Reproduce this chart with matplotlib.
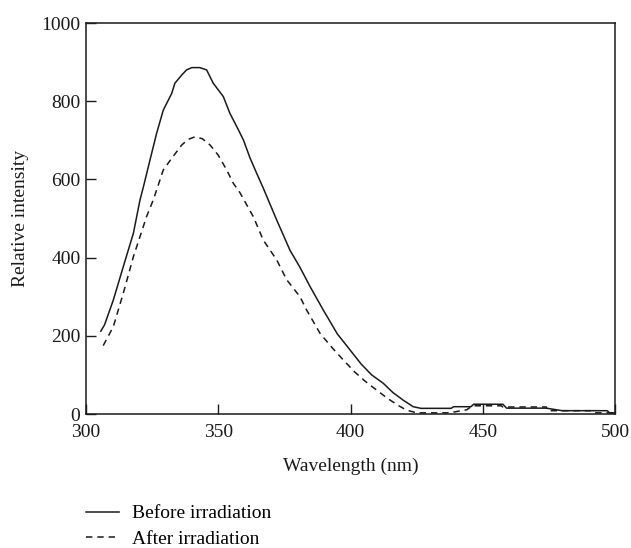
import numpy as np
import matplotlib.pyplot as plt

plt.rcParams['font.family'] = ['Liberation Serif', 'DejaVu Serif']

# before irradiation
wl_before = [305.6, 307, 310.3, 314.1, 317.9, 320.4, 321.7, 324.2, 326.7, 329.2, 332.4,
             333.6, 336.2, 338, 340, 343, 345.6, 348.1, 351.9, 354.4, 357, 359.5, 362,
             364.5, 367, 372.1, 377.1, 380.9, 384.7, 389.7, 395, 399.8, 404, 408, 412.4,
             416, 420, 423.7, 426.6, 438, 439, 445.5, 446.6, 457.6, 459, 474, 480,
             497, 498, 500]
int_before = [212, 228, 291, 377, 462, 547, 581, 650, 718, 777, 820,
              846, 867, 880, 886, 886, 880, 846, 812, 769, 735, 701, 655,
              616, 578, 496, 419, 375, 326, 266, 205, 164, 128, 100, 78.5,
              55, 35, 18.7, 14.5, 14.5, 18.7, 18.7, 25, 25, 15, 15, 8.5,
              8.5, 3, 3]

# after irradiation
wl_after = [306.5, 310.3, 314.1, 317.9, 322.9, 325.4, 326.7, 329.2, 332.4, 336.2, 338.5,
            341.2, 344, 346.9, 350, 353.2, 355.7, 358.2, 363.3, 367, 372.1, 375.9,
            380.9, 383.4, 388.5, 393, 397.3, 401.5, 405.5, 409.9, 414, 418, 421.2,
            425, 438, 439, 444, 446, 457, 457.6, 474, 474.5, 491, 492, 500]
int_after = [175, 223, 309, 402, 505, 547, 573, 624, 654, 688, 702,
             709, 704, 688, 662, 624, 590, 566, 504, 445, 394, 343,
             300, 266, 206, 170, 138, 108, 84, 61, 40, 22, 10,
             3, 3, 5, 11, 21, 21, 18, 18, 8.5, 8.5, 3, 3]

fig = plt.figure(figsize=(6.31, 5.48), dpi=100)
ax = fig.add_axes([0.1363, 0.2445, 0.9747 - 0.1363, 0.958 - 0.2445])

ax.plot(wl_before, int_before, color='#1a1a1a', linewidth=1.1, label='Before irradiation')
ax.plot(wl_after, int_after, color='#1a1a1a', linewidth=1.1, linestyle=(0, (4.2, 3.2)),
        label='After irradiation')

ax.set_xlim(300, 500)
ax.set_ylim(0, 1000)
ax.set_xticks([300, 350, 400, 450, 500])
ax.set_yticks([0, 200, 400, 600, 800, 1000])
ax.tick_params(direction='in', length=7, width=1, labelsize=14, colors='#1a1a1a')
ax.tick_params(axis='x', pad=7)
ax.tick_params(axis='y', pad=4)
for s in ax.spines.values():
    s.set_linewidth(1.1)
    s.set_color('#1a1a1a')

ax.set_xlabel('Wavelength (nm)', fontsize=14, color='#1a1a1a', labelpad=12)
ax.set_ylabel('Relative intensity', fontsize=14, color='#1a1a1a', labelpad=9)

fig.legend(loc='upper left', bbox_to_anchor=(0.136, 0.079), bbox_transform=fig.transFigure,
           frameon=False, fontsize=14, handlelength=1.7, handletextpad=0.7,
           labelspacing=0.4, borderpad=0, borderaxespad=0)

fig.savefig('out.png', dpi=100)
